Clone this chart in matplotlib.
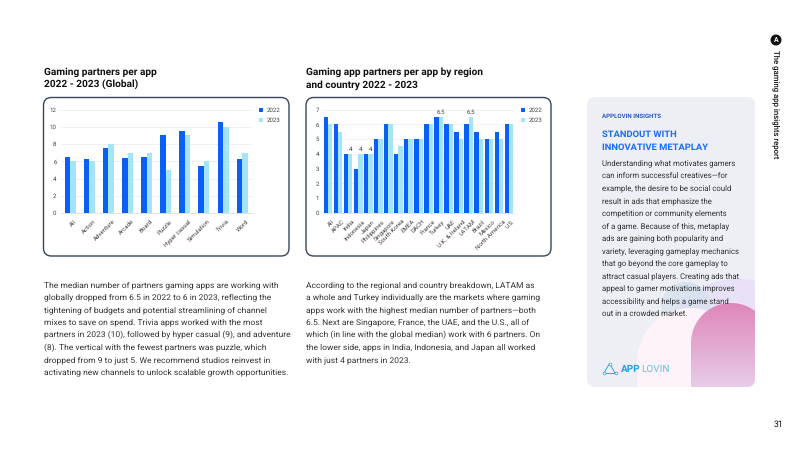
import matplotlib
matplotlib.use('Agg')
import matplotlib.pyplot as plt
import numpy as np
from matplotlib.patches import FancyBboxPatch, Circle, Rectangle, Ellipse
from matplotlib.path import Path
from matplotlib.transforms import ScaledTranslation

plt.rcParams['font.family'] = ['Roboto', 'DejaVu Sans']
plt.rcParams['text.hinting'] = 'no_hinting'

# left chart
genres = ['All', 'Action', 'Adventure', 'Arcade', 'Board', 'Puzzle', 'Hyper casual', 'Simulation', 'Trivia', 'Word']
genres_2022 = [6.5, 6.3, 7.5, 6.4, 6.5, 9, 9.5, 5.4, 10.6, 6.3]
genres_2023 = [6, 6, 8, 7, 7, 5, 9, 6, 10, 7]

# right chart
regions = ['All', 'APAC', 'India', 'Indonesia', 'Japan', 'Philippines', 'Singapore', 'South Korea', 'EMEA', 'DACH',
           'France', 'Turkey', 'UAE', 'U.K. & Ireland', 'LATAM', 'Brazil', 'Mexico', 'North America', 'U.S.']
regions_2022 = [6.5, 6, 4, 3, 4, 5, 6, 4, 5, 5, 6, 6.5, 6, 5.5, 6, 5.5, 5, 5.5, 6]
regions_2023 = [6, 5.5, 4, 4, 4, 5, 6, 4.5, 5, 5, 6, 6.5, 6, 5, 6.5, 5, 5, 5, 6]
labelled_2023 = {'India': '4', 'Indonesia': '4', 'Japan': '4', 'Turkey': '6.5', 'LATAM': '6.5'}

left_text = ['The median number of partners gaming apps are working with',
             'globally dropped from 6.5 in 2022 to 6 in 2023, reflecting the',
             'tightening of budgets and potential streamlining of channel',
             'mixes to save on spend. Trivia apps worked with the most',
             'partners in 2023 (10), followed by hyper casual (9), and adventure',
             '(8). The vertical with the fewest partners was puzzle, which',
             'dropped from 9 to just 5. We recommend studios reinvest in',
             'activating new channels to unlock scalable growth opportunities.']
mid_text = ['According to the regional and country breakdown, LATAM as',
            'a whole and Turkey individually are the markets where gaming',
            'apps work with the highest median number of partners\u2014both',
            '6.5. Next are Singapore, France, the UAE, and the U.S., all of',
            'which (in line with the global median) work with 6 partners. On',
            'the lower side, apps in India, Indonesia, and Japan all worked',
            'with just 4 partners in 2023.']
side_text = ['Understanding what motivates gamers',
             'can inform successful creatives\u2014for',
             'example, the desire to be social could',
             'result in ads that emphasize the',
             'competition or community elements',
             'of a game. Because of this, metaplay',
             'ads are gaining both popularity and',
             'variety, leveraging gameplay mechanics',
             'that go beyond the core gameplay to',
             'attract casual players. Creating ads that',
             'appeal to gamer motivations improves',
             'accessibility and helps a game stand',
             'out in a crowded market.']

BLUE = '#0a5ff5'
LIGHT = '#a3e4f7'
W, H = 800, 450

fig = plt.figure(figsize=(8, 4.5), dpi=100)
bg = fig.add_axes([0, 0, 1, 1])
bg.set_xlim(0, W)
bg.set_ylim(H, 0)
bg.axis('off')


def rect_ax(x0, x1, top, bottom):
    return fig.add_axes([x0 / W, 1 - bottom / H, (x1 - x0) / W, (bottom - top) / H])


def bars(x0, x1, top, bottom, cats, a, b, ymax, step, width, legend_x):
    ax = rect_ax(x0, x1, top, bottom)
    pos = np.arange(len(cats))
    ax.bar(pos - width / 2, a, width, color=BLUE, label='2022', zorder=3)
    ax.bar(pos + width / 2, b, width, color=LIGHT, label='2023', zorder=3)
    ax.set_xlim(-0.5, len(cats) - 0.5)
    ax.set_ylim(0, ymax)
    ax.set_yticks(np.arange(0, ymax + 1, step))
    ax.set_xticks(pos)
    ax.set_xticklabels(cats, rotation=45, ha='right', rotation_mode='anchor', fontsize=4.4, color='#444444')
    ax.tick_params(axis='x', length=0, pad=4)
    ax.tick_params(axis='y', length=0, labelsize=4.4, labelcolor='#444444', pad=3)
    # the labels end a little to the right of the bar centre
    shift = ScaledTranslation(2.5 / 72, 0, fig.dpi_scale_trans)
    for lab in ax.get_xticklabels():
        lab.set_transform(lab.get_transform() + shift)
    ax.grid(axis='y', color='#eeeeee', lw=0.6, zorder=0)
    for s in ax.spines.values():
        s.set_visible(False)
    ax.spines['bottom'].set_visible(True)
    ax.spines['bottom'].set_color('#dddddd')
    ax.spines['bottom'].set_linewidth(0.6)
    ax.patch.set_alpha(0)
    # legend by hand, it sits outside the axes
    for i, (c, t) in enumerate([(BLUE, '2022'), (LIGHT, '2023')]):
        y = 110 + i * 10
        bg.add_patch(Rectangle((legend_x, y - 2), 4, 4, color=c, lw=0, zorder=5))
        bg.text(legend_x + 8, y, t, fontsize=4.4, color='#444444', va='center', zorder=5)
    return ax


# chart cards
for x0, x1 in [(43.5, 289), (306, 551)]:
    bg.add_patch(FancyBboxPatch((x0, 97.5), x1 - x0, 158.5, boxstyle='round,pad=0,rounding_size=8',
                                fc='white', ec='#39465a', lw=1.0))

ax1 = bars(60.7, 251.7, 109.5, 213, genres, genres_2022, genres_2023, 12, 2, 0.29, 259)
ax2 = bars(323, 514, 109.5, 213, regions, regions_2022, regions_2023, 7, 1, 0.43, 521)
for i, r in enumerate(regions):
    if r in labelled_2023:
        ax2.annotate(labelled_2023[r], (i + 0.215, regions_2023[i]), xytext=(0, 1), textcoords='offset points',
                     ha='center', va='bottom', fontsize=4.4, color='#444444', zorder=4)

# headings
for x, lines in [(44, ['Gaming partners per app', '2022 - 2023 (Global)']),
                 (306, ['Gaming app partners per app by region', 'and country 2022 - 2023'])]:
    for i, t in enumerate(lines):
        bg.text(x, 72 + i * 13, t, fontsize=7.3, weight='bold', color='#111111', va='center')

# paragraphs
for x, lines in [(44, left_text), (306, mid_text)]:
    for i, t in enumerate(lines):
        bg.text(x, 285 + i * 12.5, t, fontsize=6.08, color='#333333', va='center')

# insights card
card = FancyBboxPatch((587, 97), 168, 290, boxstyle='round,pad=0,rounding_size=8', fc='#eeeff5', ec='none')
bg.add_patch(card)
lavender = Ellipse((738, 345), 152, 132, fc='#e8e1f7', ec='none', zorder=1.1)
bg.add_patch(lavender)
lavender.set_clip_path(card)

# blue-grey arch that fades out downward
fade = np.zeros((100, 1, 4))
fade[:, :, :3] = [0.83, 0.88, 0.93]
fade[:, :, 3] = np.linspace(0.9, 0, 100)[:, None]
blue_arch = bg.imshow(fade, extent=(661, 711, 345, 282), aspect='auto', zorder=1.2)
arc = [(686 + 25 * np.cos(t), 307 - 25 * np.sin(t)) for t in np.linspace(np.pi, 0, 30)]
blue_arch.set_clip_path(Path(np.array([(661, 345)] + arc + [(711, 345), (661, 345)])), bg.transData)

# pale pink arch
pale_top = Ellipse((690, 362), 106, 108, fc='#fdf3f8', ec='none', zorder=1.3)
pale_body = Rectangle((637, 362), 60, 25, fc='#fdf3f8', ec='none', zorder=1.3)
bg.add_patch(pale_top)
bg.add_patch(pale_body)
pale_top.set_clip_path(Rectangle((587, 97), 168, 290, transform=bg.transData))

# pink arch with a vertical fade
top_col = np.array([[[0.87, 0.53, 0.73]]])
bottom_col = np.array([[[0.91, 0.80, 0.91]]])
grad = np.linspace(0, 1, 100)[:, None, None] * (bottom_col - top_col) + top_col
im = bg.imshow(grad, extent=(691, 755, 387, 303), aspect='auto', zorder=2)
bg.set_xlim(0, W)
bg.set_ylim(H, 0)
arc = [(731 + 40 * np.cos(t), 343 - 40 * np.sin(t)) for t in np.linspace(np.pi, 0.927, 40)]
corner = [(747 + 8 * np.cos(t), 379 + 8 * np.sin(t)) for t in np.linspace(0, np.pi / 2, 10)]
outline = [(691, 387), (691, 343)] + arc + corner + [(691, 387)]
im.set_clip_path(Path(np.array(outline)), bg.transData)

bg.text(602, 116.5, 'APPLOVIN INSIGHTS', fontsize=4.4, weight='bold', color='#2a5bbd', va='center', zorder=6)
bg.text(602, 134, 'STANDOUT WITH', fontsize=6.75, weight='bold', color='#1a6cf2', va='center', zorder=6)
bg.text(602, 147, 'INNOVATIVE METAPLAY', fontsize=6.75, weight='bold', color='#1a6cf2', va='center', zorder=6)
for i, t in enumerate(side_text):
    bg.text(602, 163.5 + i * 12.5, t, fontsize=5.55, color='#333333', va='center', zorder=6)

# logo
bg.text(620.5, 369, 'APP', fontsize=7.2, weight='bold', color='#1f9fd6', va='center', zorder=6)
bg.text(641.5, 369, 'LOVIN', fontsize=7.2, color='#62c3e0', va='center', zorder=6)
bg.plot([604, 609.5, 615], [373, 363.5, 373], color='#35a7d8', lw=0.7, zorder=6)
bg.plot([604, 615], [372.5, 372.5], color='#35a7d8', lw=0.7, zorder=6)
bg.plot([603.5, 609.5, 615.5], [373, 363.5, 373], ls='none', marker='o', ms=2, mfc='white', mec='#35a7d8', mew=0.5,
        zorder=7)

# side header and page number
bg.add_patch(Circle((776, 40), 5.5, fc='#111111', ec='none'))
bg.text(776, 40, 'A', fontsize=5, color='white', weight='bold', ha='center', va='center')
bg.text(776, 104.5, 'The gaming app insights report', fontsize=5.6, weight='medium', rotation=-90,
        ha='center', va='center', color='#111111')
bg.text(778, 424, '31', fontsize=6.2, ha='center', va='center', color='#111111')

fig.savefig('out.png', dpi=100)
